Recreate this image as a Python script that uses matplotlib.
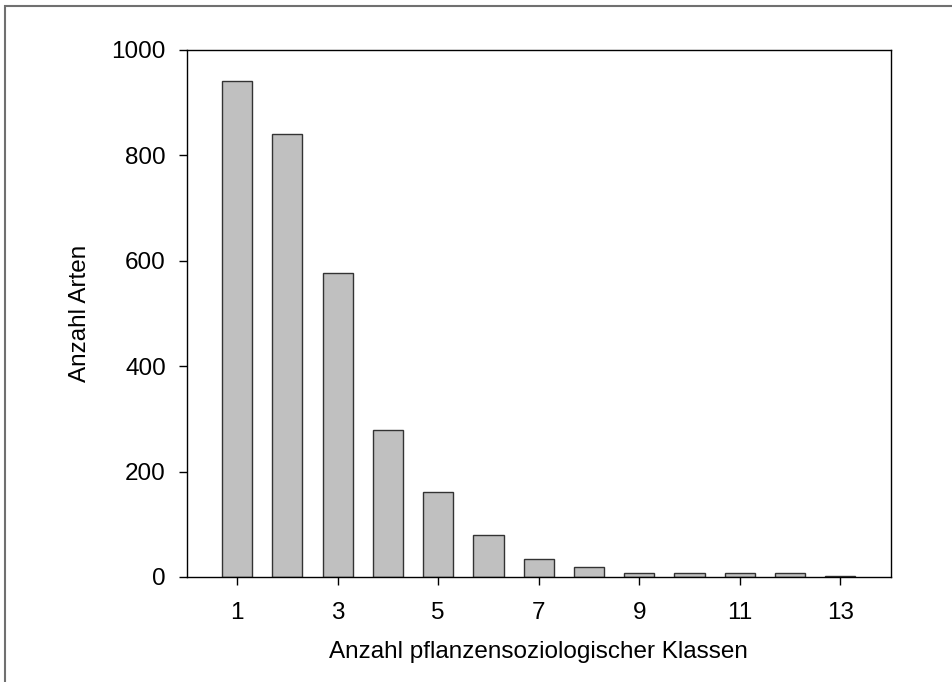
import matplotlib.pyplot as plt
from matplotlib.patches import Rectangle

# Anzahl Klassen und Anzahl Arten
klassen = [1, 2, 3, 4, 5, 6, 7, 8, 9, 10, 11, 12, 13]
arten = [942, 841, 576, 278, 161, 80, 35, 18, 7, 8, 7, 7, 2]

x_ticks = [1, 3, 5, 7, 9, 11, 13]
y_ticks = [0, 200, 400, 600, 800, 1000]

plt.rcParams['font.family'] = ['Liberation Sans', 'DejaVu Sans']
plt.rcParams['font.size'] = 17.5

fig = plt.figure(figsize=(9.53, 6.82), dpi=100)
ax = fig.add_axes([0.196, 0.154, 0.7386, 0.7727])

ax.bar(klassen, arten, width=0.6, color='#c0c0c0', edgecolor='#333333', linewidth=1.0)

ax.set_xlim(0, 14)
ax.set_ylim(0, 1000)
ax.set_xticks(x_ticks)
ax.set_yticks(y_ticks)
ax.tick_params(direction='out', length=6, width=1, color='black')
ax.tick_params(axis='x', pad=12)
ax.tick_params(axis='y', pad=9)

for s in ax.spines.values():
    s.set_linewidth(1.0)
    s.set_color('black')

ax.set_xlabel('Anzahl pflanzensoziologischer Klassen', labelpad=12)
ax.set_ylabel('Anzahl Arten', labelpad=15)

# grauer Rahmen um die Abbildung
fig.patches.append(Rectangle((5 / 953, -0.1), 1.2, 1.1 - 5.5 / 682,
                             transform=fig.transFigure, fill=False,
                             edgecolor='#707070', linewidth=1.5))

fig.savefig('out.png', dpi=100)
